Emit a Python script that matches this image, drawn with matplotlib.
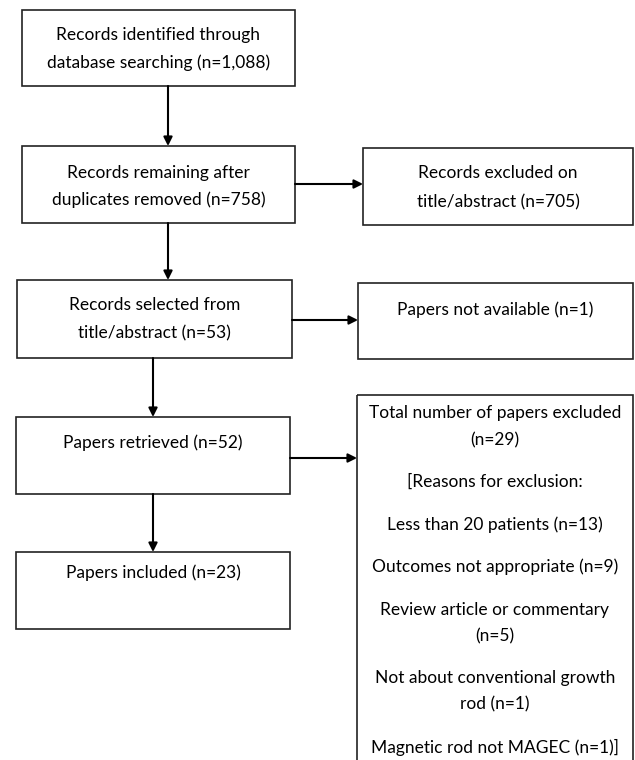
import matplotlib.pyplot as plt
from matplotlib.patches import Rectangle

plt.rcParams['font.family'] = ['Lato', 'DejaVu Sans']

# box texts (one list of lines per box)
box_texts = [
    ["Records identified through", "database searching (n=1,088)"],
    ["Records remaining after", "duplicates removed (n=758)"],
    ["Records excluded on", "title/abstract (n=705)"],
    ["Records selected from", "title/abstract (n=53)"],
    ["Papers not available (n=1)"],
    ["Papers retrieved (n=52)"],
    ["Papers included (n=23)"],
    ["Total number of papers excluded", "(n=29)", "[Reasons for exclusion:",
     "Less than 20 patients (n=13)", "Outcomes not appropriate (n=9)",
     "Review article or commentary", "(n=5)", "Not about conventional growth",
     "rod (n=1)", "Magnetic rod not MAGEC (n=1)]"],
]

# layout in pixels: left, top, right, bottom, and y of each text line
box_layout = [
    (22, 10, 295, 86, [35, 63]),
    (22, 146, 295, 223, [173, 200]),
    (363, 148, 633, 225, [173, 202]),
    (17, 280, 292, 358, [305, 333]),
    (358, 283, 633, 359, [310]),
    (16, 417, 290, 494, [443]),
    (16, 552, 290, 629, [573]),
    (357, 395, 633, 775, [413, 440, 482, 525, 567, 610, 636, 678, 704, 747]),
]

# arrows: (x0, y0, x1, y1)
arrows = [
    (168, 86, 168, 146),
    (168, 223, 168, 280),
    (295, 184, 363, 184),
    (292, 320, 358, 320),
    (153, 358, 153, 417),
    (153, 494, 153, 552),
    (290, 458, 357, 458),
]

fig = plt.figure(figsize=(6.35, 7.6), dpi=100)
ax = fig.add_axes([0, 0, 1, 1])
ax.set_xlim(0, 635)
ax.set_ylim(760, 0)
ax.axis('off')

for lines, (l, t, r, b, ys) in zip(box_texts, box_layout):
    ax.add_patch(Rectangle((l, t), r - l, b - t, fill=False,
                           edgecolor='#222222', linewidth=1.2))
    for txt, y in zip(lines, ys):
        ax.text((l + r) / 2, y, txt, ha='center', va='center',
                fontsize=12.5, color='black')

for x0, y0, x1, y1 in arrows:
    ax.annotate('', xy=(x1, y1), xytext=(x0, y0),
                arrowprops=dict(arrowstyle='-|>', color='black', lw=1.5,
                                mutation_scale=13, shrinkA=0, shrinkB=0))

fig.savefig('out.png', dpi=100)
